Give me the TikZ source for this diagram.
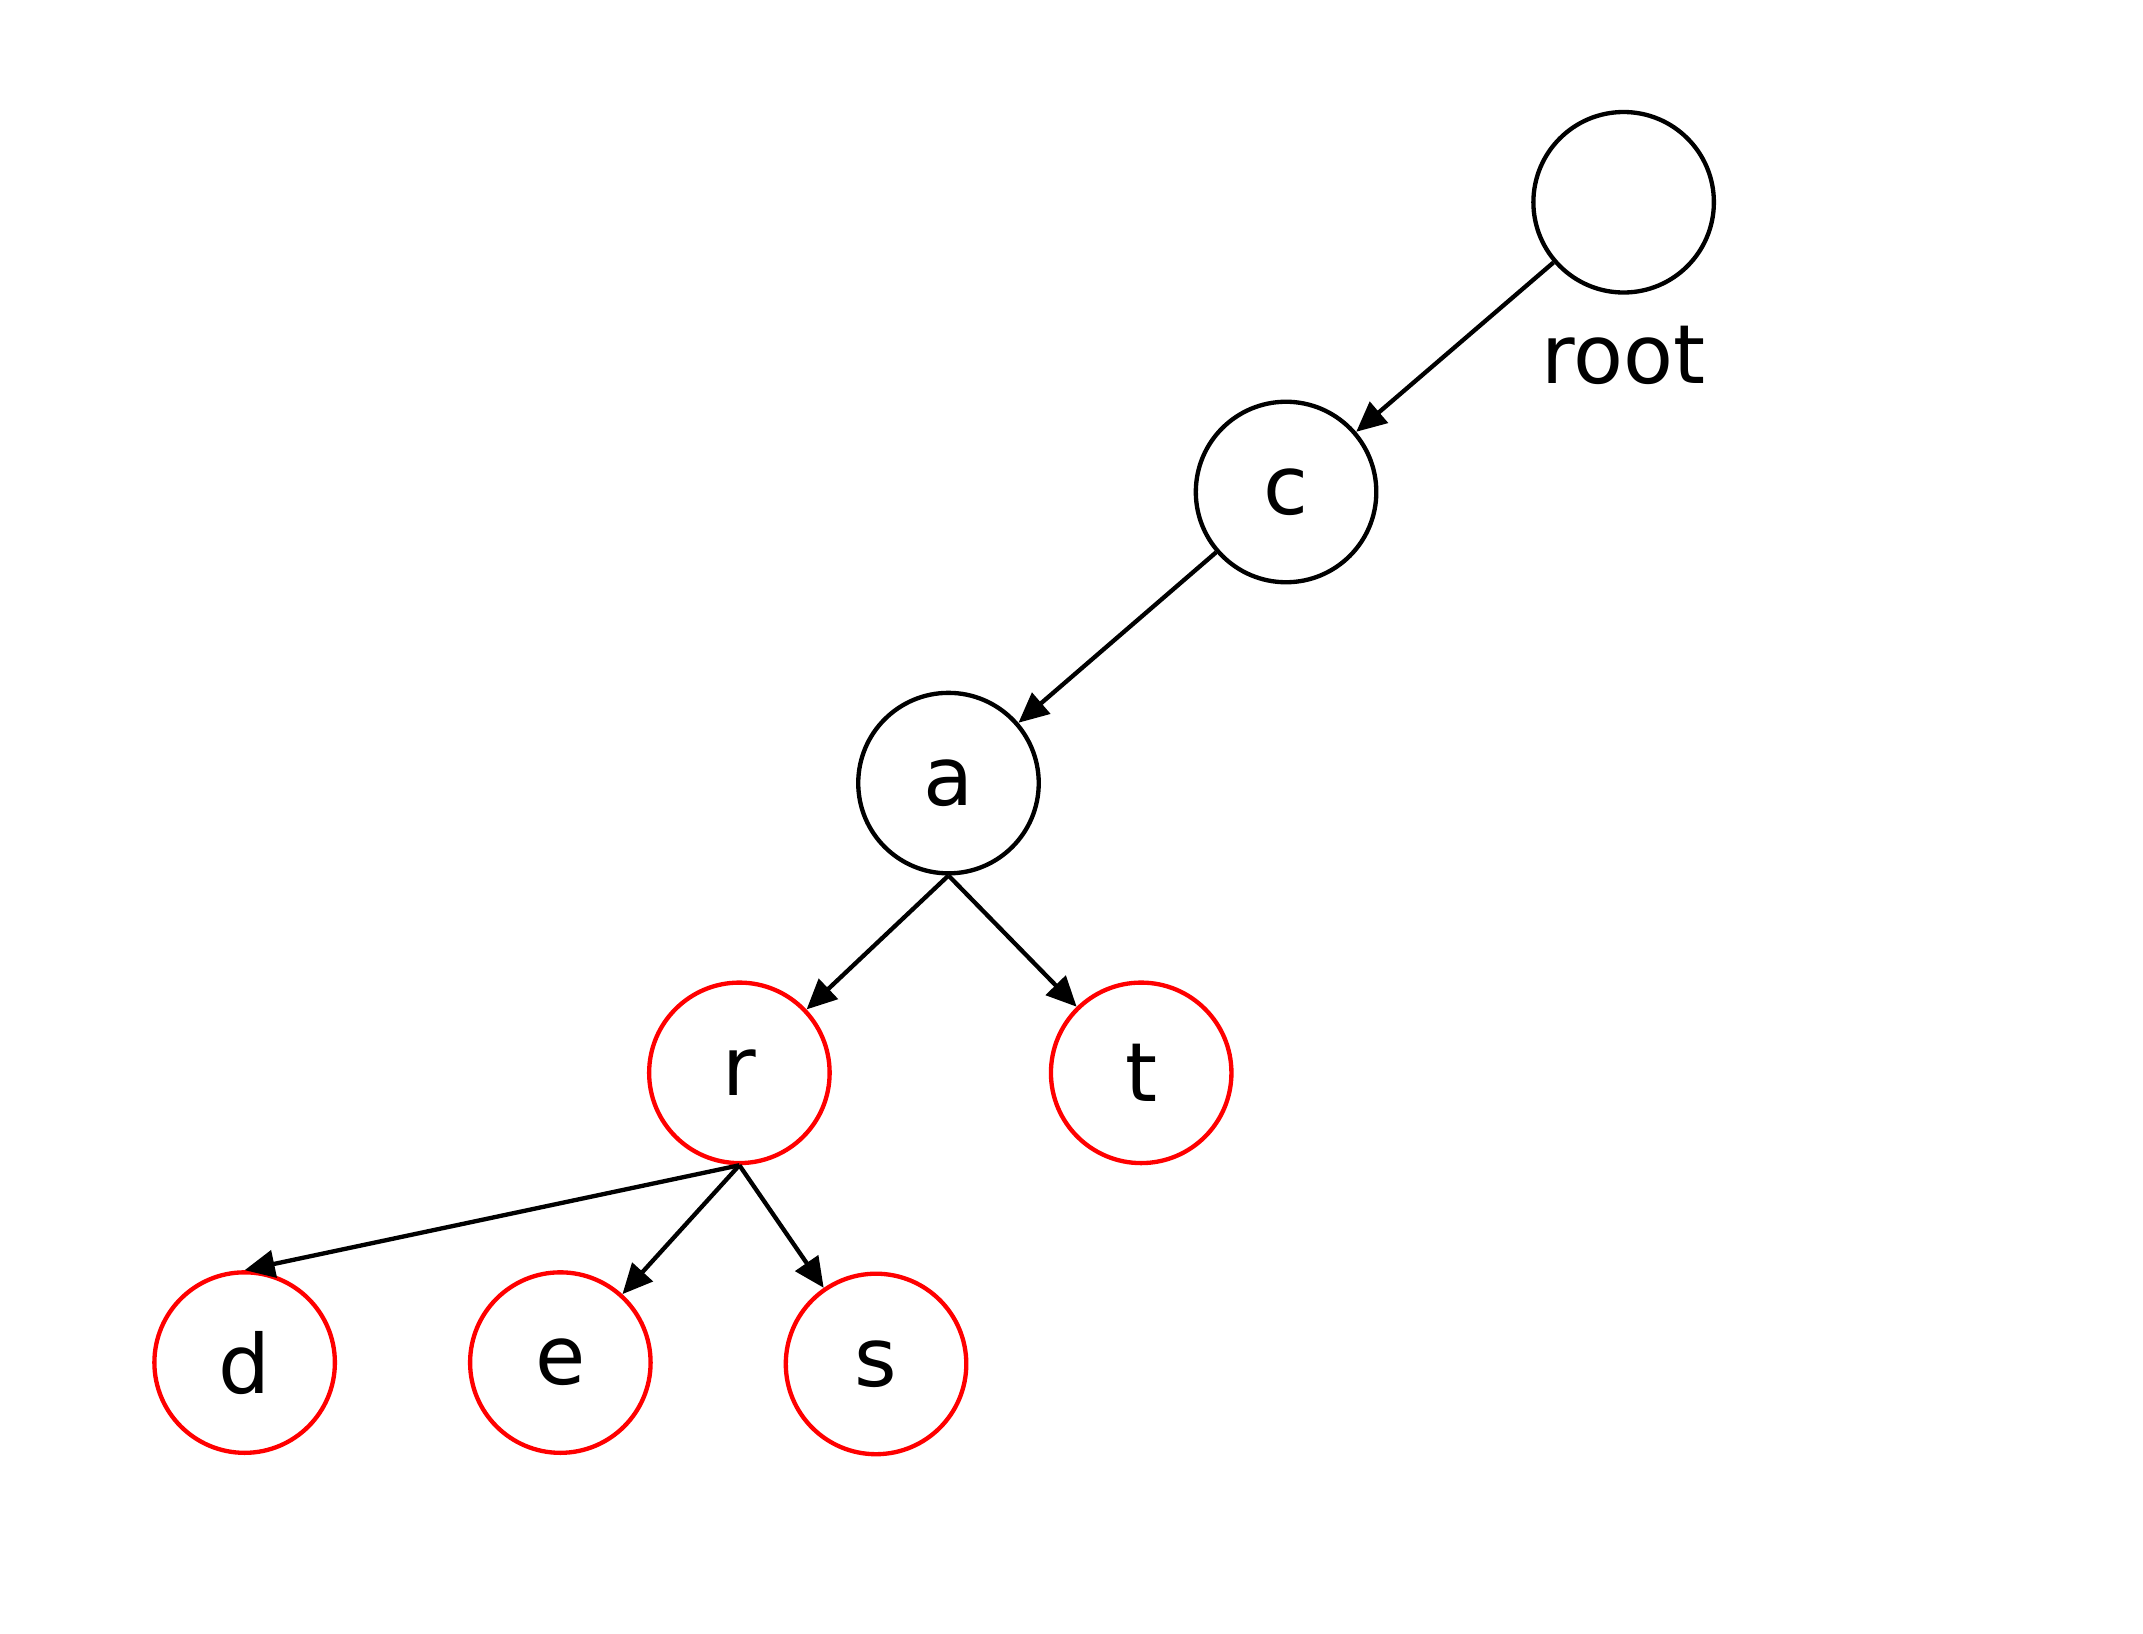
\documentclass[tikz,border=0pt]{standalone}
\usepackage{fontspec}
\setmainfont{DejaVu Sans}
\usetikzlibrary{arrows.meta}
\begin{document}
\begin{tikzpicture}[x=0.01cm,y=-0.01cm,
  every node/.style={font=\fontsize{17}{20}\selectfont},
  trienode/.style={circle,draw,line width=0.9pt,minimum size=1.32cm,inner sep=0pt},
  leafnode/.style={trienode,draw=red},
  edge/.style={line width=0.9pt,-{Triangle[length=0.22cm,width=0.2cm]}}]
\useasboundingbox (0,0) rectangle (1568,1195);
\node[trienode] (root) at (1188,148) {};
\node at (1188,260) {root};
\node[trienode] (c) at (941,360) {c};
\node[trienode] (a) at (694,573) {a};
\node[leafnode] (r) at (541,785) {r};
\node[leafnode] (t) at (835,785) {t};
\node[leafnode] (d) at (179,997) {d};
\node[leafnode] (e) at (410,997) {e};
\node[leafnode] (s) at (641,998) {s};
\draw[edge] (root) -- (c);
\draw[edge] (c) -- (a);
\draw[edge] (a.south) -- (r);
\draw[edge] (a.south) -- (t);
\draw[edge] (r.south) -- (d.north);
\draw[edge] (r.south) -- (e);
\draw[edge] (r.south) -- (s);
\end{tikzpicture}
\end{document}
